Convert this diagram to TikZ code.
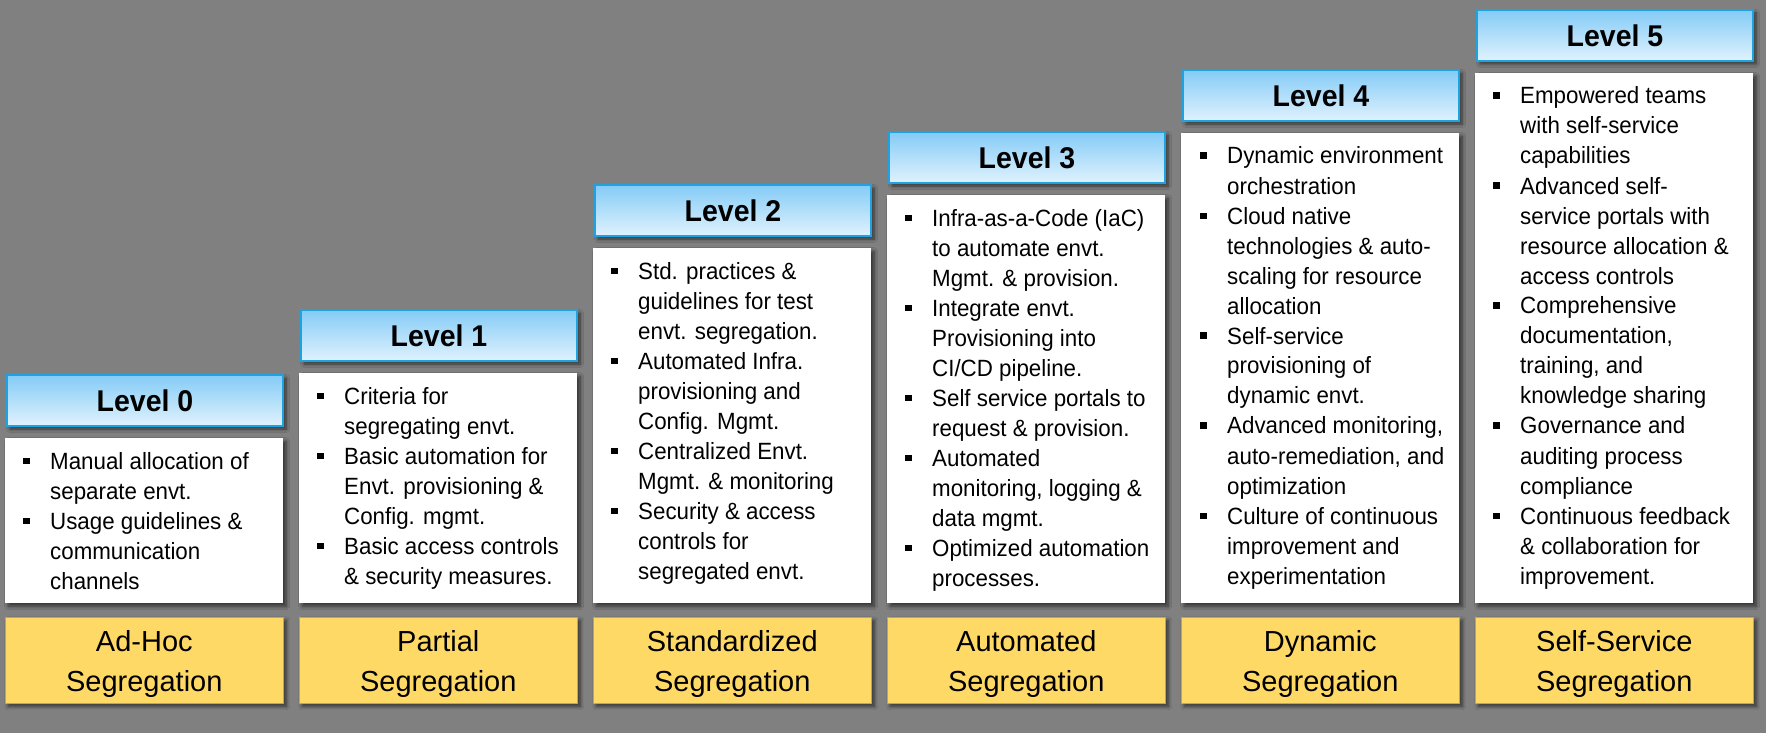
\documentclass[tikz,border=0pt]{standalone}
\usepackage{fontspec}
\setmainfont{Liberation Sans}
\newfontfamily\bodyfont[FakeStretch=0.95]{Liberation Sans}
\usetikzlibrary{shadows.blur}
\definecolor{bgcol}{RGB}{128,128,128}
\definecolor{hdrtop}{RGB}{132,203,246}
\definecolor{hdrbot}{RGB}{224,242,253}
\definecolor{hdrline}{RGB}{30,163,224}
\definecolor{segfill}{RGB}{255,217,102}
\definecolor{segline}{RGB}{196,166,72}
\newcommand\itm[1]{\par\noindent\hangindent=27pt\hangafter=1\makebox[27pt][l]{\rule[5pt]{6.5pt}{6.5pt}}#1\par}
\newcommand\blist[1]{\parbox[t]{290pt}{\bodyfont\fontsize{23.5}{30}\selectfont #1}}
\newcommand\segtext[2]{\parbox{278pt}{\centering\vspace*{7pt}#1\\#2}}
\tikzset{
  softshadow/.style={blur shadow={shadow xshift=3pt, shadow yshift=-3pt, shadow blur radius=3.5pt, shadow blur steps=8, shadow opacity=60}},
  hdr/.style={softshadow, draw=hdrline, line width=2pt, top color=hdrtop, bottom color=hdrbot,
    minimum width=276pt, minimum height=51pt, inner sep=0pt, anchor=north west,
    font=\bodyfont\bfseries\fontsize{30}{36}\selectfont},
  bodybox/.style={softshadow, fill=white, minimum width=278pt, inner sep=0pt, anchor=north west},
  txt/.style={anchor=base west, inner sep=0pt},
  seg/.style={softshadow, fill=segfill, draw=segline, line width=0.6pt, minimum width=278pt, minimum height=86pt,
    inner sep=0pt, anchor=north west, font=\fontsize{29}{40}\selectfont}
}
\begin{document}
\begin{tikzpicture}[x=1pt,y=-1pt]
\useasboundingbox (0,0) rectangle (1766,733);
\fill[bgcol] (0,0) rectangle (1766,733);

% Level 0
\node[hdr] (h0) at (6,374) {Level 0};
\node[bodybox, minimum height=165pt] (b0) at (5,438) {};
\node[txt] (t0) at (23,469) {\blist{%
\itm{Manual allocation of\\separate envt.}%
\itm{Usage guidelines \&\\communication\\channels}}};
\node[seg] (s0) at (5,617) {\segtext{Ad-Hoc}{Segregation}};

% Level 1
\node[hdr] (h1) at (300,309) {Level 1};
\node[bodybox, minimum height=230pt] (b1) at (299,373) {};
\node[txt] (t1) at (317,404) {\blist{%
\itm{Criteria for\\segregating envt.}%
\itm{Basic automation for\\Envt. provisioning \&\\Config. mgmt.}%
\itm{Basic access controls\\\& security measures.}}};
\node[seg] (s1) at (299,617) {\segtext{Partial}{Segregation}};

% Level 2
\node[hdr] (h2) at (594,184) {Level 2};
\node[bodybox, minimum height=355pt] (b2) at (593,248) {};
\node[txt] (t2) at (611,279) {\blist{%
\itm{Std. practices \&\\guidelines for test\\envt. segregation.}%
\itm{Automated Infra.\\provisioning and\\Config. Mgmt.}%
\itm{Centralized Envt.\\Mgmt. \& monitoring}%
\itm{Security \& access\\controls for\\segregated envt.}}};
\node[seg] (s2) at (593,617) {\segtext{Standardized}{Segregation}};

% Level 3
\node[hdr] (h3) at (888,131) {Level 3};
\node[bodybox, minimum height=408pt] (b3) at (887,195) {};
\node[txt] (t3) at (905,226) {\blist{%
\itm{Infra-as-a-Code (IaC)\\to automate envt.\\Mgmt. \& provision.}%
\itm{Integrate envt.\\Provisioning into\\CI/CD pipeline.}%
\itm{Self service portals to\\request \& provision.}%
\itm{Automated\\monitoring, logging \&\\data mgmt.}%
\itm{Optimized automation\\processes.}}};
\node[seg] (s3) at (887,617) {\segtext{Automated}{Segregation}};

% Level 4
\node[hdr] (h4) at (1182,69) {Level 4};
\node[bodybox, minimum height=470pt] (b4) at (1181,133) {};
\node[txt] (t4) at (1200,164) {\blist{%
\itm{Dynamic environment\\orchestration}%
\itm{Cloud native\\technologies \& auto-\\scaling for resource\\allocation}%
\itm{Self-service\\provisioning of\\dynamic envt.}%
\itm{Advanced monitoring,\\auto-remediation, and\\optimization}%
\itm{Culture of continuous\\improvement and\\experimentation}}};
\node[seg] (s4) at (1181,617) {\segtext{Dynamic}{Segregation}};

% Level 5
\node[hdr] (h5) at (1476,9) {Level 5};
\node[bodybox, minimum height=530pt] (b5) at (1475,73) {};
\node[txt] (t5) at (1493,104) {\blist{%
\itm{Empowered teams\\with self-service\\capabilities}%
\itm{Advanced self-\\service portals with\\resource allocation \&\\access controls}%
\itm{Comprehensive\\documentation,\\training, and\\knowledge sharing}%
\itm{Governance and\\auditing process\\compliance}%
\itm{Continuous feedback\\\& collaboration for\\improvement.}}};
\node[seg] (s5) at (1475,617) {\segtext{Self-Service}{Segregation}};
\end{tikzpicture}
\end{document}
